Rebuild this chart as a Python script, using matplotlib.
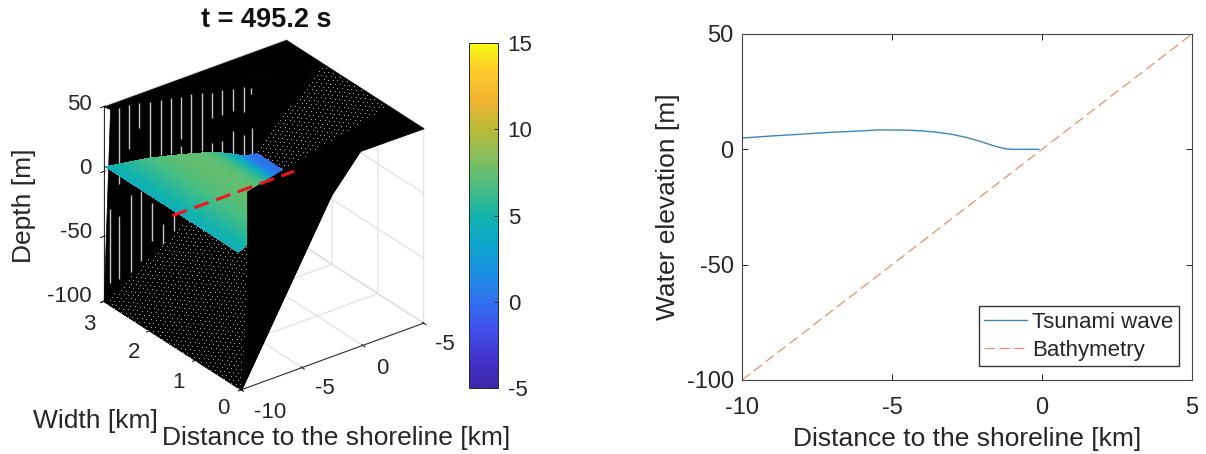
#!/usr/bin/env python3
"""Tsunami run-up in a narrowing bay: 3D view and along-channel profile."""
import numpy as np
import matplotlib
matplotlib.use('Agg')
import matplotlib.pyplot as plt
from matplotlib.colors import LinearSegmentedColormap, Normalize
from matplotlib.cm import ScalarMappable
from mpl_toolkits.mplot3d.art3d import Poly3DCollection, Line3DCollection

plt.rcParams['font.family'] = ['Liberation Sans', 'DejaVu Sans']
plt.rcParams['axes.unicode_minus'] = False
plt.rcParams['axes.linewidth'] = 0.8
plt.rcParams['grid.color'] = '#e2e2e2'
plt.rcParams['grid.linewidth'] = 0.9

W, H = 1206, 454
TEXT = '#262626'

#%% data

# profile (right panel)
wave_x = [-10, -9, -8, -7, -6, -5.5, -5, -4.5, -4, -3.5, -3, -2.5, -2, -1.6, -1.2, -1, -0.5, -0.1]
wave_z = [4.9, 5.8, 6.6, 7.4, 8.0, 8.4, 8.4, 8.3, 8.0, 7.4, 6.5, 5.1, 3.2, 1.5, 0.2, 0, 0, 0]
bath_x = [-10, 5]
bath_z = [-100, 50]

# water sheet (left panel)
water_x = [-10, -9.5, -9, -8.5, -8, -7.5, -7, -6.5, -6, -5.5, -5, -4.5, -4, -3.5, -3, -2.5, -2, -1.6, -1.2, -0.8, -0.5]
water_far = [2.96, 2.92, 2.88, 2.84, 2.80, 2.76, 2.71, 2.66, 2.61, 2.56, 2.51, 2.46, 2.42, 2.39, 2.35, 2.31, 2.27, 2.24, 2.21, 2.19, 2.17]
water_near = [0.06, 0.09, 0.13, 0.17, 0.2, 0.24, 0.27, 0.31, 0.35, 0.38, 0.42, 0.46, 0.5, 0.53, 0.57, 0.61, 0.65, 0.68, 0.71, 0.74, 0.76]
water_z = [4.6, 5.0, 5.4, 5.8, 6.2, 6.6, 6.9, 7.1, 7.3, 7.4, 7.4, 7.3, 7.0, 6.4, 5.4, 4.0, 2.3, 1.0, 0.2, 0, 0]

# bathymetry mesh outline: (x, y, z) corners
far_plateau = [(-9.55, 2.98, 47), (-10, 3, 50), (5, 3, 50), (5, 2.25, 50)]
far_wall = [(-10, 3, -100), (-9.55, 2.98, 47), (5, 2.25, 50), (0, 2.31, 0)]
ramp = [(-10, 0, -100), (-10, 3, -100), (0, 2.31, 0), (5, 2.25, 50), (5, 0.75, 50), (0, 0.69, 0)]
near_wall = [(-10, 0, -100), (-9.4, 0.03, -32), (-9.4, 0.03, 50), (5, 0.75, 50), (0, 0.69, 0)]
near_plateau = [(-9.4, 0.03, 50), (5, 0, 50), (5, 0.75, 50)]

# bay edges of the ramp
edge_x = [-10, 0, 5]
edge_near = [0, 0.69, 0.75]
edge_far = [3, 2.31, 2.25]

# white gaps in the far wall mesh
gap_x = [-9.54, -8.91, -8.91, -8.22, -8.1, -7.52, -7.4, -6.76, -6.64, -6.07, -5.9, -5.33, -5.15, -4.62, -4.62,
         -3.92, -3.19, -2.5, -2.5, -1.81, -1.81, -1.04, -1.04, -0.3, -0.3, 0.2, 0.25]
gap_y = [2.98, 2.95, 2.95, 2.91, 2.90, 2.88, 2.87, 2.84, 2.83, 2.80, 2.79, 2.77, 2.76, 2.73, 2.73,
         2.70, 2.66, 2.63, 2.63, 2.59, 2.59, 2.55, 2.55, 2.51, 2.51, 2.49, 2.49]
gap_lo = [-87, -12, -85, 13, -82, 28, -75, 3, -61, 4, -65, 3, -57, 13, 1,
          0, 0, 24, -4, 25, -5, 26, -8, 24, -9, 36, -10]
gap_hi = [-30, 46, -37, 47, -22, 47, -21, 46, -32, 46, -50, 46, -44, 45, 7,
          46, 45, 43, 5, 44, 5, 43, 11, 43, 6, 41, 10]

# red centre line
centre_x = [-10, 0]
centre_y = [1.5, 1.5]
centre_z = [0, 0]

# tick labels of the 3D view (the last x label really reads -5)
xtick_labels = ['-10', '-5', '0', '-5']
ytick_labels = ['0', '1', '2', '3']
ztick_labels = ['-100', '-50', '0', '50']

# parula, sampled from the colorbar
parula_colors = ['#3e26a8', '#4433cc', '#4050e8', '#2f70f0', '#1c90e0', '#0ca5cc', '#14b4ac',
                 '#48bd80', '#84bf5c', '#b8ba38', '#f0b432', '#fcc82c', '#f9fb15']
clim = (-5, 15)
cbar_ticks = [-5, 0, 5, 10, 15]

#%% figure

fig = plt.figure(figsize=(W / 100, H / 100), dpi=100)
parula = LinearSegmentedColormap.from_list('parula', parula_colors)
norm = Normalize(*clim)


def px_box(left, top, right, bottom):
    return [left / W, 1 - bottom / H, (right - left) / W, (bottom - top) / H]


def px_text(x, y, s, **kw):
    kw.setdefault('ha', 'center')
    kw.setdefault('va', 'center')
    kw.setdefault('color', TEXT)
    fig.text(x / W, 1 - y / H, s, **kw)


#%% left panel

size = 381
cx, cy = 258.5, 220
ax = fig.add_axes(px_box(cx - size / 2, cy - size / 2, cx + size / 2, cy + size / 2),
                  projection='3d', proj_type='ortho', computed_zorder=False)
ax.patch.set_alpha(0)
ax.view_init(elev=29, azim=-127)
ax.set_box_aspect((1, 1, 0.975))
ax.set_xlim(-10, 5, view_margin=0)
ax.set_ylim(0, 3, view_margin=0)
ax.set_zlim(-100, 50, view_margin=0)

for axis in (ax.xaxis, ax.yaxis, ax.zaxis):
    axis.set_pane_color((1, 1, 1, 1))
    axis.pane.set_edgecolor('#dddddd')
    axis.line.set_color(TEXT)
    axis.line.set_linewidth(0.7)

# 3D tick labels drift with the view, so they are placed by hand below
ax.set_xticks([-10, -5, 0, 5], [''] * 4)
ax.set_yticks([0, 1, 2, 3], [''] * 4)
ax.set_zticks([-100, -50, 0, 50], [''] * 4)
ax.tick_params(axis='both', colors=TEXT)

for s, x, y in zip(xtick_labels, [270, 325, 382, 445], [412, 388, 368, 345]):
    px_text(x, y, s, fontsize=16)
for s, x, y in zip(ytick_labels, [223, 179, 134, 89], [409, 382, 353, 325]):
    px_text(x, y, s, fontsize=16)
for s, y in zip(ztick_labels, [296, 232, 168, 105]):
    px_text(92, y, s, ha='right', fontsize=16)

for verts, z in ((far_plateau, 2), (far_wall, 2), (ramp, 3)):
    ax.add_collection3d(Poly3DCollection([verts], facecolor='k', edgecolor='k', linewidth=0.5, zorder=z))

# mesh gaps on the ramp, one per mesh node
mesh_x, mesh_y = np.meshgrid(np.arange(-10, 5, 0.2), np.arange(0, 3, 0.075))
mesh_x[::2] += 0.1
keep = (mesh_y > np.interp(mesh_x, edge_x, edge_near) + 0.03) & (mesh_y < np.interp(mesh_x, edge_x, edge_far) - 0.03)
ax.scatter(mesh_x[keep], mesh_y[keep], 10 * mesh_x[keep], s=0.7, c='#b4b4b4', linewidths=0,
           depthshade=False, zorder=4)

gaps = [[(x, y, lo), (x, y, hi)] for x, y, lo, hi in zip(gap_x, gap_y, gap_lo, gap_hi)]
ax.add_collection3d(Line3DCollection(gaps, colors='#c4c4c4', linewidths=1.0, zorder=4))

X = np.column_stack([water_x, water_x])
Y = np.column_stack([water_near, water_far])
Z = np.column_stack([water_z, water_z])
ax.plot_surface(X, Y, Z, facecolors=parula(norm(Z)), rstride=1, cstride=1, shade=False,
                antialiased=False, linewidth=0, zorder=5)

for verts in (near_wall, near_plateau):
    ax.add_collection3d(Poly3DCollection([verts], facecolor='k', edgecolor='k', linewidth=0.5, zorder=6))

ax.plot(centre_x, centre_y, centre_z, color='#f0141e', lw=2.2, dashes=(5, 2.6), zorder=7)

px_text(266, 20, 't = 495.2 s', fontsize=19.5, fontweight='bold', color='#111111')
px_text(24, 206, 'Depth [m]', rotation=90, fontsize=19)
px_text(95, 421, 'Width [km]', fontsize=19)
px_text(336, 438, 'Distance to the shoreline [km]', fontsize=19)

cax = fig.add_axes(px_box(469, 43, 498, 388))
cb = fig.colorbar(ScalarMappable(norm=norm, cmap=parula), cax=cax, ticks=cbar_ticks)
cb.ax.set_yticklabels(['-5', '0', '5', '10', '15'])
cb.ax.tick_params(direction='in', length=3, width=0.7, labelsize=16, labelcolor=TEXT, color=TEXT, pad=7)
cb.outline.set_edgecolor(TEXT)
cb.outline.set_linewidth(0.7)

#%% right panel

ax2 = fig.add_axes(px_box(742, 34, 1192, 380))
ax2.plot(wave_x, wave_z, color='#3f86b5', lw=1.0, label='Tsunami wave')
ax2.plot(bath_x, bath_z, color='#e8906c', lw=0.9, dashes=(8, 4), label='Bathymetry')
ax2.set_xlim(-10, 5)
ax2.set_ylim(-100, 50)
ax2.set_xticks([-10, -5, 0, 5])
ax2.set_yticks([-100, -50, 0, 50])
ax2.tick_params(direction='in', length=4, width=0.7, top=True, right=True, labelsize=17,
                labelcolor=TEXT, color=TEXT, pad=6)
ax2.tick_params(axis='x', pad=12)
for spine in ax2.spines.values():
    spine.set_color('#444444')
ax2.set_xlabel('Distance to the shoreline [km]', fontsize=19, color=TEXT, labelpad=6)
ax2.set_ylabel('Water elevation [m]', fontsize=19, color=TEXT, labelpad=5)
ax2.legend(loc='lower right', bbox_to_anchor=(0.971, 0.04), borderaxespad=0, fontsize=16,
           fancybox=False, framealpha=1, edgecolor='#333333', handlelength=1.9, handletextpad=0.25,
           labelspacing=0.3, borderpad=0.25, labelcolor=TEXT)

fig.savefig('out.png', dpi=100)
